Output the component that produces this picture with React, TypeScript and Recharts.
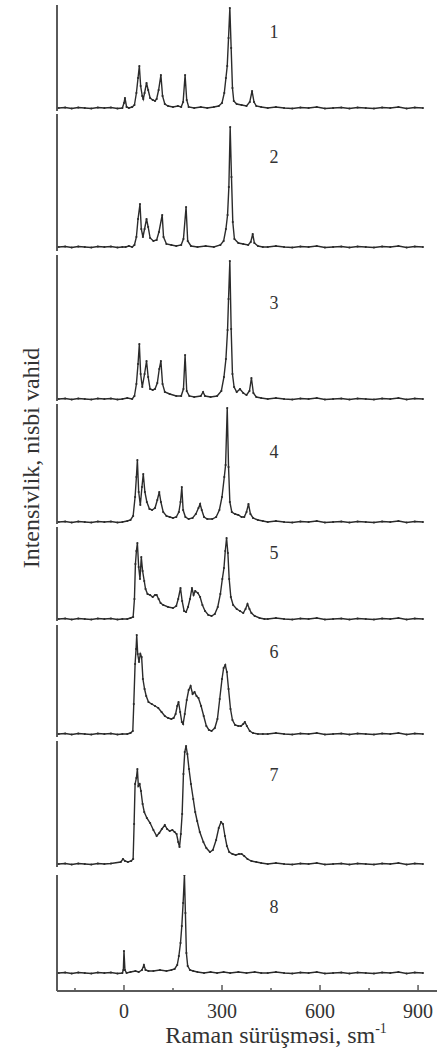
import { LineChart, Line, XAxis, YAxis, ReferenceDot } from "recharts";

const SERIF = '"Liberation Serif", "Times New Roman", serif';
const INK = "#2b2b2b";
const AXIS = "#5a5a5a";

// Raman shift axis (cm-1)
const X_DOMAIN: [number, number] = [-205, 958];
const X_TICKS = [-150, 0, 150, 300, 450, 600, 750, 900];
const X_LABELED = [0, 300, 600, 900];

// flat baseline stretches shared by the spectra
const tailLeft: [number, number][] = [
  [-200, 0], [-180, 0.5], [-160, -0.5], [-140, 0.5], [-120, 0], [-100, -0.5],
  [-80, 0.5], [-60, 0], [-40, 0.5], [-20, -0.5],
];
const tailRight: [number, number][] = [
  [440, 0], [465, 1], [490, 0], [515, -0.5], [540, 0.5], [565, 0], [590, 1],
  [615, -0.5], [640, 0], [665, 0.5], [690, -0.5], [715, 0.5], [740, 0],
  [765, -0.5], [790, 0.5], [815, 0], [840, 1], [865, -0.5], [890, 0.5], [915, 0],
];

const spec1: [number, number][] = [
  [-5, 0], [0, 5], [3, 10], [8, 1], [15, 0], [25, 1], [32, 3], [38, 15], [43, 30],
  [47, 42], [51, 22], [56, 12], [59, 9], [63, 15], [69, 25], [74, 18], [80, 10],
  [88, 8], [95, 7], [100, 9], [106, 18], [113, 33], [118, 12], [125, 4], [135, 2],
  [150, 1], [165, 2], [175, 1], [181, 6], [187, 33], [192, 8], [198, 1], [215, 0],
  [235, 1], [255, 0], [275, 1], [290, 2], [300, 5], [307, 15], [312, 30], [316, 42],
  [320, 70], [324, 100], [328, 60], [332, 20], [336, 7], [345, 4], [360, 3],
  [375, 2], [385, 6], [392, 17], [398, 6], [405, 2], [420, 1],
];
const spec2: [number, number][] = [
  [-5, 0], [5, 0], [15, 1], [25, 0], [32, 2], [38, 10], [43, 28], [49, 43], [53, 18],
  [58, 10], [63, 18], [69, 28], [74, 20], [80, 9], [90, 6], [100, 7], [107, 15],
  [117, 32], [121, 10], [130, 3], [145, 2], [160, 1], [175, 2], [182, 8], [190, 40],
  [195, 6], [205, 1], [225, 0], [250, 1], [275, 0], [295, 2], [305, 6], [312, 18],
  [317, 32], [321, 60], [325, 120], [329, 70], [333, 25], [338, 8], [350, 4],
  [365, 3], [380, 2], [388, 5], [394, 13], [399, 4], [410, 1], [425, 0],
];
const spec3: [number, number][] = [
  [-5, 0], [10, 1], [25, 0], [32, 3], [38, 15], [43, 35], [47, 55], [51, 25],
  [56, 12], [63, 25], [69, 38], [74, 22], [80, 10], [88, 9], [95, 10], [102, 16],
  [108, 30], [113, 38], [118, 15], [125, 7], [140, 5], [160, 3], [175, 3], [182, 10],
  [187, 44], [192, 8], [200, 3], [215, 2], [235, 3], [242, 7], [248, 3], [265, 2],
  [285, 3], [298, 8], [306, 22], [312, 40], [317, 69], [320, 100], [324, 138],
  [328, 70], [332, 25], [337, 12], [345, 7], [355, 10], [365, 6], [375, 4],
  [384, 8], [390, 21], [396, 6], [405, 2], [420, 1],
];
const spec4: [number, number][] = [
  [-5, 0], [10, 1], [20, 2], [28, 6], [34, 25], [38, 45], [41, 62], [45, 30],
  [50, 17], [55, 35], [59, 48], [64, 30], [70, 20], [78, 13], [86, 12], [95, 14],
  [102, 22], [108, 30], [113, 20], [120, 10], [130, 6], [140, 5], [150, 4], [160, 5],
  [168, 10], [173, 20], [177, 35], [181, 12], [188, 5], [198, 3], [210, 4], [220, 8],
  [228, 14], [233, 18], [238, 12], [245, 5], [255, 3], [270, 3], [282, 5], [292, 12],
  [300, 25], [307, 45], [311, 57], [316, 114], [320, 55], [324, 20], [330, 10],
  [340, 8], [350, 7], [360, 5], [368, 5], [375, 10], [381, 18], [387, 8], [395, 4],
  [410, 2], [425, 1],
];
const spec5: [number, number][] = [
  [-5, 0], [10, 0], [20, 1], [28, 2], [32, 20], [35, 55], [38, 68], [41, 76],
  [45, 52], [49, 40], [53, 62], [57, 48], [62, 38], [66, 30], [72, 25], [80, 24],
  [88, 22], [95, 24], [100, 24], [106, 20], [112, 16], [120, 14], [135, 12],
  [150, 11], [160, 13], [166, 20], [173, 31], [178, 18], [184, 8], [190, 7],
  [196, 12], [202, 20], [208, 31], [213, 24], [218, 28], [226, 26], [233, 22],
  [240, 14], [248, 8], [258, 4], [268, 3], [278, 5], [287, 12], [295, 25], [301, 40],
  [306, 51], [310, 68], [314, 81], [318, 66], [322, 40], [327, 22], [334, 14],
  [345, 10], [355, 8], [365, 6], [372, 10], [378, 15], [384, 10], [390, 6],
  [400, 3], [415, 1], [430, 0],
];
const spec6: [number, number][] = [
  [-5, 0], [10, 0], [20, 1], [27, 3], [30, 30], [34, 70], [37, 85], [39, 99],
  [42, 80], [46, 72], [50, 80], [54, 77], [58, 55], [63, 45], [68, 38], [75, 32],
  [85, 30], [95, 28], [105, 26], [115, 22], [125, 18], [135, 16], [145, 15],
  [152, 16], [158, 20], [163, 28], [167, 32], [172, 22], [177, 12], [181, 10],
  [186, 20], [192, 34], [198, 44], [204, 48], [210, 40], [216, 42], [222, 38],
  [228, 36], [236, 28], [244, 18], [252, 8], [260, 4], [268, 3], [278, 6], [286, 15],
  [293, 35], [300, 55], [305, 66], [310, 69], [315, 62], [320, 45], [326, 25],
  [332, 14], [340, 9], [350, 8], [358, 8], [365, 10], [370, 12], [376, 8], [385, 3],
  [395, 1], [410, 0], [425, 0],
];
const spec7: [number, number][] = [
  [-10, 2], [-3, 5], [3, 3], [12, 2], [22, 3], [28, 5], [31, 40], [34, 80], [38, 86],
  [41, 95], [44, 78], [48, 80], [52, 73], [57, 60], [62, 52], [70, 46], [80, 41],
  [90, 34], [100, 28], [108, 31], [116, 35], [125, 39], [132, 35], [140, 33],
  [148, 34], [155, 32], [161, 30], [166, 22], [170, 17], [174, 30], [178, 50],
  [182, 90], [186, 112], [190, 118], [194, 110], [199, 95], [205, 80], [212, 65],
  [218, 52], [224, 43], [232, 32], [243, 22], [252, 16], [263, 12], [272, 14],
  [282, 24], [290, 36], [297, 42], [303, 40], [309, 28], [315, 18], [322, 12],
  [332, 10], [342, 9], [352, 10], [360, 10], [368, 8], [378, 5], [390, 3], [405, 2],
  [420, 1],
];
const spec8: [number, number][] = [
  [-5, 0], [-2, 3], [0, 22], [3, 3], [8, 0], [20, 1], [35, 2], [45, 1], [55, 3],
  [61, 8], [66, 3], [75, 2], [90, 2], [110, 3], [130, 2], [145, 3], [155, 4],
  [163, 8], [168, 17], [173, 30], [177, 47], [181, 70], [185, 98], [188, 60],
  [191, 20], [195, 7], [202, 3], [212, 2], [225, 1], [245, 0], [265, 1], [285, 0],
  [305, 1], [325, 0], [350, 1], [375, 0], [400, 1], [420, 0],
];

const spectra = [spec1, spec2, spec3, spec4, spec5, spec6, spec7, spec8];
const sampleNames = ["1", "2", "3", "4", "5", "6", "7", "8"];
// height of each sample number above its own baseline
const nameLevels = [76, 90, 96, 70, 66, 82, 89, 66];
const NAME_SHIFT = 459;

// page layout of the panels: top of the axis segment, its bottom, and baseline
const layout = [
  { top: 5, bottom: 111, base: 108 },
  { top: 114, bottom: 251, base: 247 },
  { top: 255, bottom: 401, base: 399 },
  { top: 404, bottom: 524, base: 522 },
  { top: 527, bottom: 621, base: 619 },
  { top: 625, bottom: 737, base: 734 },
  { top: 741, bottom: 867, base: 864 },
  { top: 875, bottom: 991, base: 973 },
];

const XTick = (props: any) => {
  const { x, y, payload } = props;
  const major = X_LABELED.includes(payload.value);
  return (
    <g>
      <line x1={x} x2={x} y1={y} y2={y - (major ? 6 : 3)} stroke={AXIS} strokeWidth={1.5} />
      {major && (
        <text x={x} y={y + 27} textAnchor="middle" fontSize={20} fontFamily={SERIF} fill="#333">
          {payload.value}
        </text>
      )}
    </g>
  );
};

function Panel({ idx }: { idx: number }) {
  const { top, bottom, base } = layout[idx];
  const last = idx === layout.length - 1;
  const axisHeight = last ? 1050 - bottom : 0;
  const height = bottom - top + axisHeight;
  const data = [...(idx === 6 ? tailLeft.slice(0, 9) : tailLeft), ...spectra[idx], ...tailRight].map(
    ([x, y]) => ({ x, y })
  );
  return (
    <div style={{ position: "absolute", left: 0, top }}>
      <LineChart width={438} height={height} data={data} margin={{ top: 0, right: 1, bottom: 0, left: 0 }}>
        <XAxis
          dataKey="x"
          type="number"
          domain={X_DOMAIN}
          allowDataOverflow
          hide={!last}
          height={axisHeight}
          ticks={X_TICKS}
          interval={0}
          tickLine={false}
          tickSize={0}
          tickMargin={0}
          tick={<XTick />}
          axisLine={{ stroke: AXIS, strokeWidth: 2 }}
        />
        <YAxis
          type="number"
          width={57}
          domain={[base - bottom, base - top]}
          allowDataOverflow
          ticks={[0]}
          tick={false}
          tickLine={last ? { stroke: AXIS, strokeWidth: 1.2 } : false}
          tickSize={5}
          axisLine={{ stroke: AXIS, strokeWidth: 2 }}
        />
        <Line
          dataKey="y"
          type="linear"
          stroke={INK}
          strokeWidth={1.4}
          dot={{ r: 1.1, fill: INK, strokeWidth: 0 }}
          isAnimationActive={false}
        />
        <ReferenceDot
          x={NAME_SHIFT}
          y={nameLevels[idx]}
          r={0}
          fill="none"
          stroke="none"
          label={{ value: sampleNames[idx], position: "center", fontSize: 18, fill: "#333", fontFamily: SERIF }}
        />
      </LineChart>
    </div>
  );
}

export default function App() {
  return (
    <div style={{ position: "absolute", left: 0, top: 0, width: 438, height: 1050, background: "#fff" }}>
      {layout.map((_, i) => (
        <Panel key={i} idx={i} />
      ))}
      <svg width={438} height={1050} style={{ position: "absolute", left: 0, top: 0, pointerEvents: "none" }}>
        <text
          transform="translate(39, 458) rotate(-90)"
          textAnchor="middle"
          fontSize={24}
          fontFamily={SERIF}
          fill="#333"
        >
          Intensivlik, nisbi vahid
        </text>
        <text x={276} y={1043} textAnchor="middle" fontSize={24} fontFamily={SERIF} fill="#333">
          Raman sürüşməsi, sm
          <tspan fontSize={14} dy={-10}>-1</tspan>
        </text>
      </svg>
    </div>
  );
}
